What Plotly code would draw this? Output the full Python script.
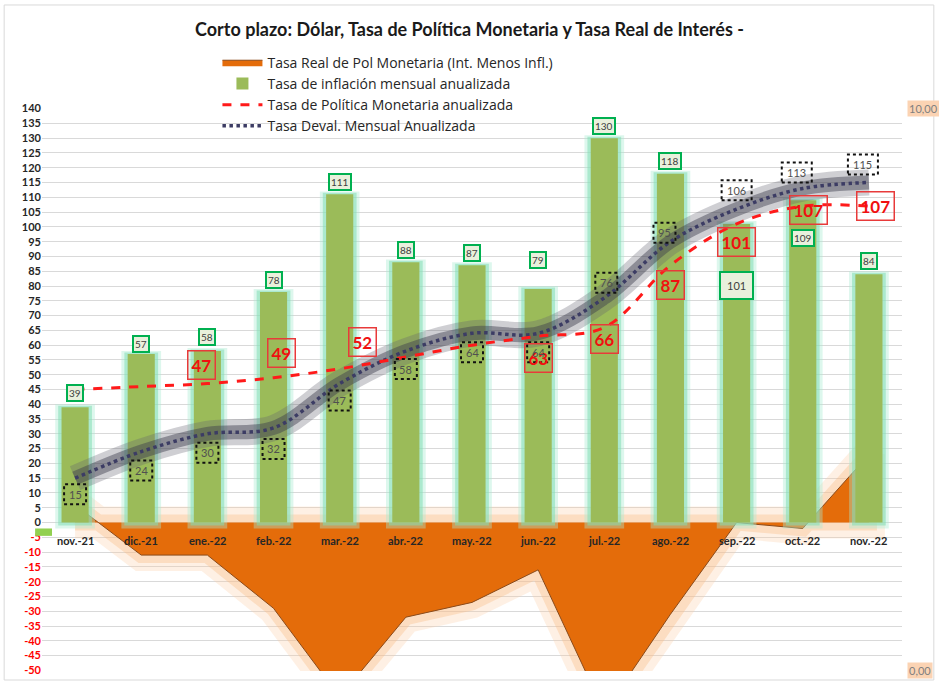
import plotly.graph_objects as go

# ---------------- data ----------------
categorias = ["nov.-21", "dic.-21", "ene.-22", "feb.-22", "mar.-22", "abr.-22", "may.-22",
              "jun.-22", "jul.-22", "ago.-22", "sep.-22", "oct.-22", "nov.-22"]
inflacion = [39, 57, 58, 78, 111, 88, 87, 79, 130, 118, 101, 109, 84]
tpm = [45, 46, 47, 49, 52, 56, 60, 63, 66, 87, 101, 107, 107]
deval = [15, 24, 30, 32, 47, 58, 64, 64, 76, 95, 106, 113, 115]
tasa_real = [6, -11, -11, -29, -59, -32, -27, -16, -64, -31, 0, -2, 23]
y_ticks = list(range(-50, 141, 5))

# which TPM points carry a label
tpm_label_idx = [2, 3, 4, 7, 8, 9, 10, 11, 12]

# ---------------- label placement (pixels) ----------------
infl_lab_dy = [14, 10, 14, 12, 12, 12, 12, 29, 12, 13, -62, -38, 13]
tpm_lab_dy = {2: 19, 3: 25, 4: 27, 7: -22, 8: -12, 9: -20, 10: -18, 11: -4, 12: 0}
tpm_lab_dx = {2: -6, 3: 8, 4: 23, 7: 0, 8: 0, 9: 0, 10: 0, 11: 6, 12: 7}
dev_lab_dy = [-16, -19, -19, -21, -17, -18, -19, -19, 15, 9, 19, 16, 18]
dev_lab_dx = [0, 0, 0, 0, 0, 0, 0, 0, 2, -6, 0, -6, -6]

FONT = "Lato"
ORANGE = "#e46c0a"
GREEN = "#9bbb59"
RED = "#ff1a1a"
NAVY = "#3c3c64"

fig = go.Figure()

# ---- orange area glow ----
poly_x = categorias + categorias[::-1]
poly_y = tasa_real + [0] * len(categorias)
fig.add_trace(go.Scatter(x=poly_x, y=poly_y, mode="lines", showlegend=False, hoverinfo="skip",
                         line=dict(color="rgba(252,205,165,0.30)", width=32), zorder=-3))
fig.add_trace(go.Scatter(x=poly_x, y=poly_y, mode="lines", showlegend=False, hoverinfo="skip",
                         line=dict(color="rgba(250,185,130,0.35)", width=16), zorder=-3))
# ---- orange area ----
fig.add_trace(go.Scatter(x=categorias, y=tasa_real, mode="lines", fill="tozeroy",
                         fillcolor=ORANGE, line=dict(color="#8a4a1a", width=1),
                         name="Tasa Real de Pol Monetaria (Int. Menos Infl.)",
                         legendrank=1, zorder=-1))

# ---- bars glow ----
fig.add_trace(go.Bar(x=categorias, y=[v + 3 for v in inflacion], base=-2, width=0.60,
                     marker=dict(color="rgba(170,235,210,0.40)", line_width=0),
                     showlegend=False, hoverinfo="skip", zorder=0))
fig.add_trace(go.Bar(x=categorias, y=[v + 1.5 for v in inflacion], base=-1, width=0.51,
                     marker=dict(color="rgba(130,222,180,0.55)", line_width=0),
                     showlegend=False, hoverinfo="skip", zorder=0))
# ---- bars ----
fig.add_trace(go.Bar(x=categorias, y=inflacion, width=0.41,
                     marker=dict(color=GREEN, line_width=0),
                     name="Tasa de inflación mensual anualizada", legendrank=2, zorder=0))

# ---- deval glow + line ----
fig.add_trace(go.Scatter(x=categorias, y=deval, mode="lines", showlegend=False, hoverinfo="skip",
                         line=dict(color="rgba(95,95,110,0.30)", width=26, shape="spline"), zorder=1))
fig.add_trace(go.Scatter(x=categorias, y=deval, mode="lines", showlegend=False, hoverinfo="skip",
                         line=dict(color="rgba(60,60,75,0.45)", width=14, shape="spline"), zorder=1))
fig.add_trace(go.Scatter(x=categorias, y=deval, mode="lines",
                         line=dict(color=NAVY, width=3.5, dash="dot", shape="spline"),
                         name="Tasa Deval. Mensual Anualizada", legendrank=4, zorder=2))

# ---- TPM ----
fig.add_trace(go.Scatter(x=categorias, y=tpm, mode="lines",
                         line=dict(color=RED, width=3, dash="dash", shape="spline"),
                         name="Tasa de Política Monetaria anualizada", legendrank=3, zorder=3))

annotations = []
shapes = []

# category labels along the zero line
for c in categorias:
    annotations.append(dict(x=c, y=0, yshift=-18, text="<b>%s</b>" % c, showarrow=False,
                            font=dict(family=FONT, size=11, color="#262626")))

# inflation labels
for i, v in enumerate(inflacion):
    big = (i == 10)
    annotations.append(dict(x=categorias[i], y=v, yshift=infl_lab_dy[i], text=str(v),
                            showarrow=False, font=dict(family=FONT, size=11 if big else 10, color="#404040"),
                            bgcolor="#e9f0dc", bordercolor="#00b050", borderwidth=2,
                            borderpad=6 if big else 1))

# TPM labels
for i in tpm_label_idx:
    v = tpm[i]
    annotations.append(dict(x=categorias[i], y=v, yshift=tpm_lab_dy[i], xshift=tpm_lab_dx[i],
                            text="<b>%d</b>" % v, showarrow=False,
                            font=dict(family=FONT, size=17, color="#f01010"),
                            bordercolor="#e83a3a", borderwidth=1.5, borderpad=3))

# deval labels with dotted boxes
for i, v in enumerate(deval):
    hw = 15 if v >= 100 else 11
    annotations.append(dict(x=categorias[i], y=v, yshift=dev_lab_dy[i], xshift=dev_lab_dx[i],
                            text=str(v), showarrow=False,
                            font=dict(family=FONT, size=11, color="#505050")))
    shapes.append(dict(type="rect", xref="x", yref="y", xsizemode="pixel", ysizemode="pixel",
                       xanchor=i, yanchor=v,
                       x0=dev_lab_dx[i] - hw, x1=dev_lab_dx[i] + hw,
                       y0=dev_lab_dy[i] - 10, y1=dev_lab_dy[i] + 10,
                       line=dict(color="#111111", width=2, dash="dot")))

# right side axis labels
annotations.append(dict(xref="paper", yref="y", x=1.006, y=140, xanchor="left", text="10,00",
                        showarrow=False, bgcolor="#fbd3b3", font=dict(family=FONT, size=11, color="#7f7f7f")))
annotations.append(dict(xref="paper", yref="y", x=1.006, y=-50, xanchor="left", text="0,00",
                        showarrow=False, bgcolor="#fbd3b3", font=dict(family=FONT, size=11, color="#7f7f7f")))

# small stray green marker at the left of the axis & chart frame
shapes.append(dict(type="rect", xref="paper", yref="y", x0=-0.008, x1=0.0116, y0=-4.5, y1=-2,
                   fillcolor="#92d050", line_width=0, layer="above"))
shapes.append(dict(type="rect", xref="paper", yref="paper", x0=-0.044, x1=1.037, y0=-0.016, y1=1.183,
                   line=dict(color="#d9d9d9", width=1), fillcolor="rgba(0,0,0,0)"))

tick_text = [("<span style='color:#ff0000'>%d</span>" % t) if t < 0 else str(t) for t in y_ticks]

fig.update_layout(
    width=939, height=684,
    margin=dict(l=42, r=37, t=108, b=13, autoexpand=False),
    paper_bgcolor="white", plot_bgcolor="white",
    barmode="overlay",
    title=dict(text="<b>Corto plazo: Dólar, Tasa de Política Monetaria y Tasa Real de Interés -</b>",
               x=0.5, xref="container", y=1 - 30 / 684, yanchor="middle",
               font=dict(family=FONT, size=18, color="#1a1a1a")),
    font=dict(family=FONT, color="#262626"),
    showlegend=True,
    legend=dict(x=0.204, y=1.109, xanchor="left", yanchor="top", traceorder="normal",
                bgcolor="rgba(0,0,0,0)", font=dict(family="Open Sans", size=14, color="#262626"),
                itemwidth=40, tracegroupgap=0),
    xaxis=dict(type="category", showline=False, showgrid=False, zeroline=False,
               showticklabels=False, ticks=""),
    yaxis=dict(range=[-50.2, 140.2], tickvals=y_ticks, ticktext=tick_text, showgrid=True,
               gridcolor="#d9d9d9", gridwidth=1, zeroline=True, zerolinecolor="#d9d9d9",
               zerolinewidth=1, showline=False, ticks="",
               tickfont=dict(family=FONT, size=11, color="#262626", weight="bold")),
    annotations=annotations,
    shapes=shapes,
)

fig.write_html("out.html", config={"displayModeBar": False},
               post_script="document.body.style.margin='0px';")
